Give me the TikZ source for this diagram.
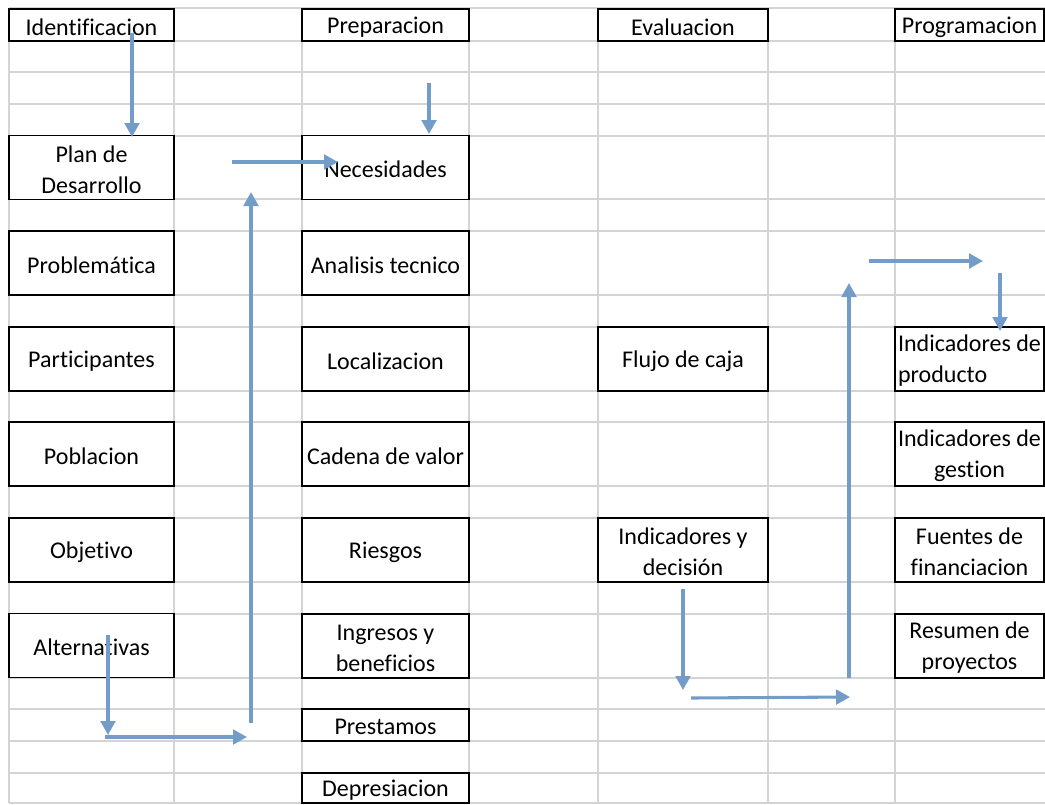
\documentclass[tikz,border=0pt]{standalone}
\usepackage{fontspec}
\setmainfont{Carlito}[Ligatures=NoCommon]
\usetikzlibrary{arrows.meta}
\definecolor{gridgray}{RGB}{212,212,212}
\definecolor{flowblue}{RGB}{115,156,200}
\begin{document}
\begin{tikzpicture}[x=0.75pt,y=-0.75pt,
  gridline/.style={draw=gridgray,line width=1pt},
  txt/.style={inner sep=0pt,align=center,yshift=-1.5pt,
    font=\fontsize{18pt}{23.25pt}\selectfont},
  cell/.style={draw=black,fill=white,line width=1.4pt,inner sep=0pt},
  colA/.style={cell,minimum width=123.75pt},
  colC/.style={cell,minimum width=125.25pt},
  colE/.style={cell,minimum width=127.5pt},
  colG/.style={cell,minimum width=111.75pt},
  tall/.style={minimum height=48pt},
  short/.style={minimum height=24pt},
  flow/.style={draw=flowblue,line width=2.3pt,-{Triangle[length=10.5pt,width=11pt]}}]
\useasboundingbox (0,0) rectangle (1045,804);

% spreadsheet grid
\foreach \y in {8,41,72,104,136,199,231,295,327,391,422,486,518,582,614,678,709,741,773,803}
  \draw[gridline] (9,\y) -- (1045,\y);
\foreach \x in {9,174,302,469,598,768,895}
  \draw[gridline] (\x,8) -- (\x,803);

% column headers
\node[colA,short,label={[txt]center:Identificacion}] (ident) at (91.5,25) {};
\node[colC,short,label={[txt]center:Preparacion}] (prep) at (385.5,25) {};
\node[colE,short,label={[txt]center:Evaluacion}] (eval) at (683,25) {};
\node[colG,short,label={[txt]center:Programacion}] (prog) at (969.5,25) {};

% identificacion
\node[colA,tall,label={[txt]center:{Plan de\\Desarrollo}}] (plan) at (91.5,167.5) {};
\node[colA,tall,label={[txt]center:Problemática}] (probl) at (91.5,263) {};
\node[colA,tall,label={[txt]center:Participantes}] (part) at (91.5,359) {};
\node[colA,tall,label={[txt]center:Poblacion}] (pobl) at (91.5,454) {};
\node[colA,tall,label={[txt]center:Objetivo}] (obj) at (91.5,550) {};
\node[colA,tall,label={[txt]center:Alternativas}] (alt) at (91.5,645.5) {};

% preparacion
\node[colC,tall,label={[txt]center:Necesidades}] (nec) at (385.5,167.5) {};
\node[colC,tall,label={[txt]center:Analisis tecnico}] (anal) at (385.5,263) {};
\node[colC,tall,label={[txt]center:Localizacion}] (loc) at (385.5,359) {};
\node[colC,tall,label={[txt]center:Cadena de valor}] (cad) at (385.5,454) {};
\node[colC,tall,label={[txt]center:Riesgos}] (ries) at (385.5,550) {};
\node[colC,tall,label={[txt]center:{Ingresos y\\beneficios}}] (ingr) at (385.5,646) {};
\node[colC,short,label={[txt]center:Prestamos}] (prest) at (385.5,725) {};
\node[colC,minimum height=22.5pt,label={[txt]center:Depresiacion}] (depr) at (385.5,788) {};

% evaluacion
\node[colE,tall,label={[txt]center:Flujo de caja}] (flujo) at (683,359) {};
\node[colE,tall,label={[txt]center:{Indicadores y\\decisión}}] (indec) at (683,550) {};

% programacion
\node[colG,tall,label={[txt,align=left]center:{Indicadores de\\producto}}] (inprod) at (969.5,359) {};
\node[colG,tall,label={[txt]center:{Indicadores de\\gestion}}] (inges) at (969.5,454) {};
\node[colG,tall,label={[txt]center:{Fuentes de\\financiacion}}] (fuent) at (969.5,550) {};
\node[colG,tall,label={[txt]center:{Resumen de\\proyectos}}] (resum) at (969.5,646) {};

% arrow end points
\coordinate (a1s) at (132,33);   \coordinate (a1e) at (132,137);
\coordinate (a2s) at (232,162);  \coordinate (a2e) at (338,162);
\coordinate (a3s) at (429,83);   \coordinate (a3e) at (429,134);
\coordinate (a4s) at (251,723);  \coordinate (a4e) at (251,192);
\coordinate (a5s) at (108,635);  \coordinate (a5e) at (108,735);
\coordinate (a6s) at (105,737);  \coordinate (a6e) at (247,737);
\coordinate (a7s) at (683,589);  \coordinate (a7e) at (683,690);
\coordinate (a8s) at (691,698);  \coordinate (a8e) at (850,697);
\coordinate (a9s) at (849,678);  \coordinate (a9e) at (849,283);
\coordinate (a10s) at (869,261); \coordinate (a10e) at (983,261);
\coordinate (a11s) at (1000,273);\coordinate (a11e) at (1000,331);

% flow arrows
\foreach \i in {1,...,11}
  \draw[flow] (a\i s) -- (a\i e);
\end{tikzpicture}
\end{document}
